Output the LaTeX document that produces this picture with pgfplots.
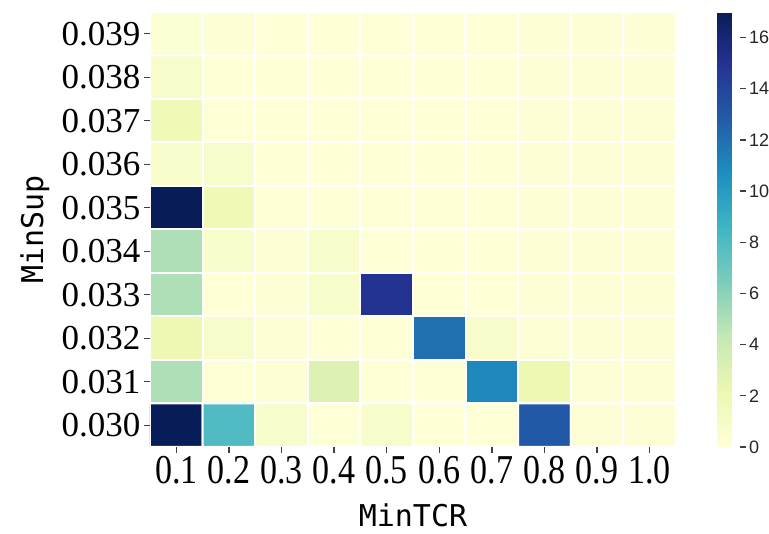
\documentclass[border=0pt]{standalone}
\usepackage{fontspec}
\usepackage{pgfplots}
\usepackage{pgfplotstable}
\pgfplotsset{compat=1.18}
\setmainfont{Liberation Serif}
\newfontfamily\labfont{DejaVu Sans Mono}
\newfontfamily\cbfont{Liberation Sans}
\newfontfamily\xtfont[FakeStretch=0.83]{Liberation Serif}

\pgfplotsset{
  /pgf/number format/assume math mode=true,
  colormap={ylgnbu}{rgb255=(255,255,217) rgb255=(237,248,177) rgb255=(199,233,180)
    rgb255=(127,205,187) rgb255=(65,182,196) rgb255=(29,145,192)
    rgb255=(34,94,168) rgb255=(37,52,148) rgb255=(8,29,88)},
}

% x: MinTCR index (1 = 0.1), y: MinSup index (0 = 0.030)
\pgfplotstableread{
x y v
1 0 17
2 0 8
3 0 0.8
4 0 0.1
5 0 0.8
6 0 0.1
7 0 0.1
8 0 13
9 0 0.2
10 0 0.2
1 1 5
2 1 0.1
3 1 0.2
4 1 3
5 1 0.1
6 1 0.1
7 1 11
8 1 2
9 1 0.2
10 1 0.2
1 2 2
2 2 0.8
3 2 0.2
4 2 0.1
5 2 0.1
6 2 12
7 2 0.8
8 2 0.2
9 2 0.2
10 2 0.2
1 3 5
2 3 0.1
3 3 0.2
4 3 0.8
5 3 15
6 3 0.1
7 3 0.1
8 3 0.2
9 3 0.2
10 3 0.2
1 4 5
2 4 0.7
3 4 0.2
4 4 0.8
5 4 0.1
6 4 0.1
7 4 0.1
8 4 0.2
9 4 0.2
10 4 0.2
1 5 17
2 5 1.8
3 5 0.1
4 5 0.1
5 5 0.1
6 5 0.1
7 5 0.1
8 5 0.2
9 5 0.2
10 5 0.2
1 6 0.8
2 6 0.8
3 6 0.1
4 6 0.1
5 6 0.1
6 6 0.1
7 6 0.1
8 6 0.2
9 6 0.2
10 6 0.2
1 7 1.8
2 7 0.1
3 7 0.1
4 7 0.1
5 7 0.1
6 7 0.1
7 7 0.1
8 7 0.2
9 7 0.2
10 7 0.2
1 8 0.8
2 8 0.1
3 8 0.1
4 8 0.1
5 8 0.1
6 8 0.1
7 8 0.1
8 8 0.2
9 8 0.2
10 8 0.2
1 9 0.3
2 9 0.2
3 9 0.1
4 9 0.1
5 9 0.1
6 9 0.1
7 9 0.1
8 9 0.2
9 9 0.2
10 9 0.2
}\heat

\begin{document}
\begin{tikzpicture}
\path[use as bounding box] (0,0) rectangle (769pt,534pt);
\begin{axis}[
  at={(150pt,87pt)}, anchor=south west,
  width=526pt, height=435pt, scale only axis,
  xmin=0.5, xmax=10.5, ymin=-0.5, ymax=9.5,
  enlargelimits=false,
  axis line style={draw=none},
  xtick={1,...,10},
  xticklabels={0.1,0.2,0.3,0.4,0.5,0.6,0.7,0.8,0.9,1.0},
  % the matrix plot turns the y axis round: row 0 is drawn at the top
  ytick={0,...,9},
  yticklabels={0.039,0.038,0.037,0.036,0.035,0.034,0.033,0.032,0.031,0.030},
  xtick pos=left, ytick pos=left,
  tick align=outside, major tick length=6pt,
  every tick/.style={draw=black!75, line width=1.3pt},
  xticklabel style={font=\xtfont\fontsize{41}{41}\selectfont},
  yticklabel style={font=\fontsize{35}{35}\selectfont},
  xlabel={MinTCR}, ylabel={MinSup},
  xlabel style={font=\labfont\fontsize{30}{30}\selectfont,
    at={(axis description cs:0.5,0)}, anchor=base, yshift=-80pt},
  ylabel style={font=\labfont\fontsize{30}{30}\selectfont,
    at={(axis description cs:-0.2034,0.5)}, anchor=base},
  colormap name=ylgnbu, point meta min=0, point meta max=17,
  colorbar,
  colorbar style={
    at={(parent axis.north east)}, anchor=north west, xshift=33pt,
    width=22pt, scale only axis,
    axis line style={draw=none},
    xtick=\empty,
    ytick={0,2,...,16},
    yticklabels={0,2,4,6,8,10,12,14,16},
    ytick pos=right, yticklabel pos=right,
    tick align=outside, major tick length=6pt,
    every tick/.style={draw=black!75, line width=1.3pt},
    yticklabel style={font=\cbfont\fontsize{18}{18}\selectfont, text=black!85},
  },
]
\addplot[matrix plot, mesh/cols=10, point meta=explicit,
  shader=faceted, faceted color=white, line width=2pt]
  table[x=x, y expr=9-\thisrow{y}, meta=v] {\heat};
\end{axis}
\end{tikzpicture}
\end{document}
